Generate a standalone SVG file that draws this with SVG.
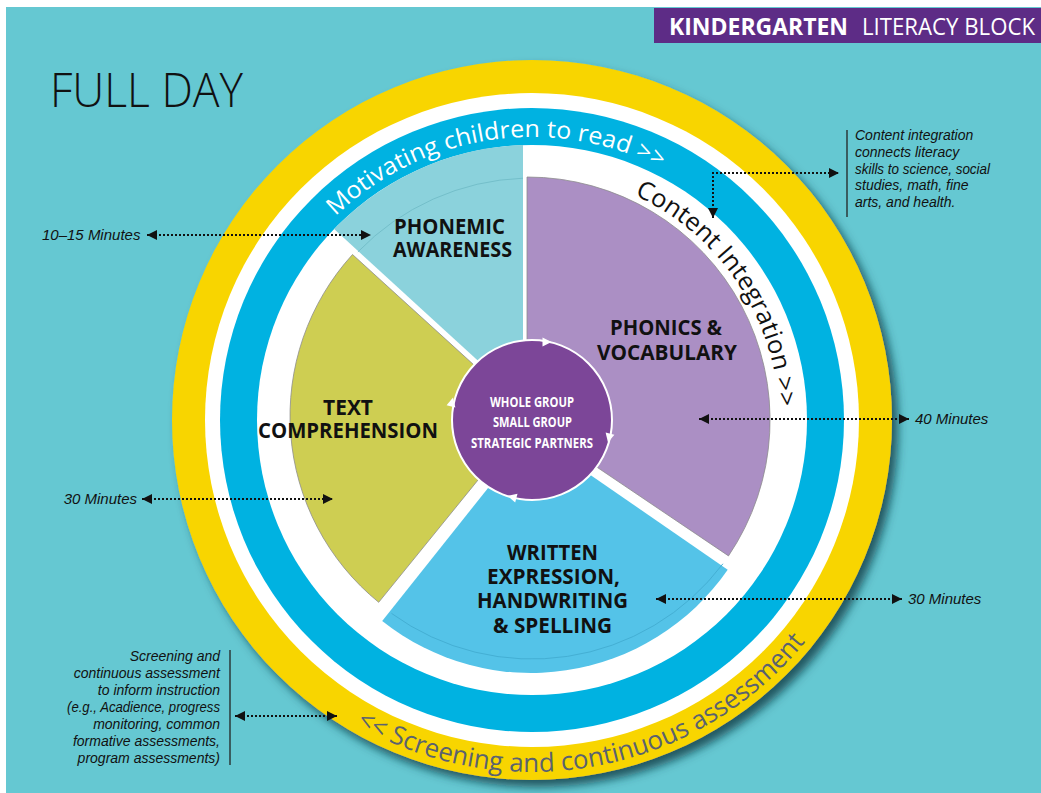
<svg xmlns="http://www.w3.org/2000/svg" width="1041" height="793" viewBox="0 0 1041 793">
<style>
.bold{font-family:"Open Sans","Liberation Sans",sans-serif;font-weight:700}
.lbl{font-family:"Open Sans","Liberation Sans",sans-serif;font-weight:700;font-size:21px;fill:#111;text-anchor:middle}
.ctr{font-family:"Open Sans","Liberation Sans",sans-serif;font-weight:700;font-size:15px;fill:#fff;text-anchor:middle}
.ann{font-family:"Liberation Sans",Arial,sans-serif;font-style:italic;font-size:15px;fill:#111}
.note{font-family:"Liberation Sans",Arial,sans-serif;font-style:italic;font-size:14px;fill:#111}
.arc{font-family:"Open Sans","Liberation Sans",sans-serif;font-weight:400}
.dot{fill:none;stroke:#111;stroke-width:2;stroke-dasharray:2 2}
.bar{stroke:#222;stroke-width:1.3}
.faint{fill:none;stroke-width:1}
</style>
<defs>
<marker id="ah" viewBox="0 0 10 10" refX="10" refY="5" markerWidth="10" markerHeight="11" markerUnits="userSpaceOnUse" orient="auto-start-reverse">
<path d="M0,0 L10,5 L0,10 Z" fill="#111"/>
</marker>
<path id="tri" d="M4.5,0 L-4.5,-4.5 L-4.5,4.5 Z" fill="#fff"/>
<filter id="shadow" x="-10%" y="-10%" width="125%" height="125%">
<feDropShadow dx="6" dy="7" stdDeviation="5" flood-color="#0b3a44" flood-opacity="0.8"/>
</filter>
<path id="pMot" d="M335.4,216.4 A283 283 0 0 1 748.8,238.1"/>
<path id="pCon" d="M634.4,195.2 A247 247 0 0 1 775.2,462.9"/>
<path id="pScr" d="M356,724.8 A352 352 0 0 0 836.8,596"/>
</defs>

<rect x="0" y="0" width="1041" height="793" fill="#ffffff"/>
<rect x="6" y="7" width="1035" height="786" fill="#65c8d2"/>

<g id="header">
<rect x="654" y="8" width="387" height="35" fill="#5d2c86"/>
<text x="669" y="35" class="bold" font-size="24" fill="#fff" textLength="179" lengthAdjust="spacingAndGlyphs">KINDERGARTEN</text>
<text x="862" y="35" class="arc" font-size="24" fill="#fff" textLength="173" lengthAdjust="spacingAndGlyphs">LITERACY BLOCK</text>
</g>

<g id="title">
<text x="50" y="107" font-family="Open Sans, Liberation Sans, sans-serif" font-weight="300" font-size="48" fill="#111" textLength="193" lengthAdjust="spacingAndGlyphs">FULL DAY</text>
</g>

<g id="rings">
<circle cx="532" cy="420" r="360" fill="#f8d500" filter="url(#shadow)"/>
<circle cx="532" cy="420" r="327" fill="#ffffff"/>
<circle cx="532" cy="420" r="312" fill="#00b2e1"/>
<circle cx="532" cy="420" r="275" fill="#ffffff"/>
</g>

<g id="ring-labels">
<text class="arc" font-size="24" fill="#ffffff"><textPath href="#pMot" textLength="351" lengthAdjust="spacingAndGlyphs">Motivating children to read &gt;&gt;</textPath></text>
<text class="arc" font-size="25" fill="#111111"><textPath href="#pCon" textLength="269" lengthAdjust="spacingAndGlyphs">Content Integration &gt;&gt;</textPath></text>
<text class="arc" font-size="26" fill="#5a6270"><textPath href="#pScr" textLength="497" lengthAdjust="spacingAndGlyphs">&lt;&lt; Screening and continuous assessment</textPath></text>
</g>

<g id="phonemic-awareness">
<path d="M523,402 L523,145.1 A275 275 0 0 0 334.1,229.1 Z" fill="#8bd2dc"/>
<path class="faint" d="M357.9,251.9 A242 242 0 0 1 523,178.2" stroke="#74bfca"/>
<text class="lbl" x="449.5" y="234" textLength="111" lengthAdjust="spacingAndGlyphs">PHONEMIC</text>
<text class="lbl" x="452.5" y="257" textLength="119" lengthAdjust="spacingAndGlyphs">AWARENESS</text>
</g>

<g id="phonics-vocabulary">
<path d="M527,420 L527,177 A243 243 0 0 1 728.5,555.9 Z" fill="#ab8fc4" stroke="#8d8d8d" stroke-width="0.8"/>
<text class="lbl" x="666" y="335" textLength="112" lengthAdjust="spacingAndGlyphs">PHONICS &amp;</text>
<text class="lbl" x="667" y="360" textLength="140" lengthAdjust="spacingAndGlyphs">VOCABULARY</text>
</g>

<g id="text-comprehension">
<path d="M530,416 L352.5,254.5 A240 240 0 0 0 378.7,602.3 Z" fill="#cece52" stroke="#8d8d8d" stroke-width="0.8"/>
<text class="lbl" x="348" y="415" textLength="50" lengthAdjust="spacingAndGlyphs">TEXT</text>
<text class="lbl" x="348" y="438" textLength="180" lengthAdjust="spacingAndGlyphs">COMPREHENSION</text>
</g>

<g id="written-expression">
<path d="M531,434 L727.7,569.7 A239 239 0 0 1 382.2,621 Z" fill="#54c3e8"/>
<path class="faint" d="M722.9,563.8 A239 239 0 0 1 391.5,613.4" stroke="#44afd4"/>
<text class="lbl" x="552.5" y="560" textLength="91" lengthAdjust="spacingAndGlyphs">WRITTEN</text>
<text class="lbl" x="553.5" y="584" textLength="133" lengthAdjust="spacingAndGlyphs">EXPRESSION,</text>
<text class="lbl" x="552.5" y="608" textLength="151" lengthAdjust="spacingAndGlyphs">HANDWRITING</text>
<text class="lbl" x="552.5" y="633" textLength="119" lengthAdjust="spacingAndGlyphs">&amp; SPELLING</text>
</g>

<g id="grouping-center">
<circle cx="532" cy="420" r="80" fill="#7c4698" stroke="#ffffff" stroke-width="2"/>
<use href="#tri" transform="translate(547,342) rotate(0)"/>
<use href="#tri" transform="translate(609,438) rotate(103)"/>
<use href="#tri" transform="translate(512,497) rotate(195)"/>
<use href="#tri" transform="translate(452,402) rotate(-77)"/>
<text class="ctr" x="532" y="407" textLength="84" lengthAdjust="spacingAndGlyphs">WHOLE GROUP</text>
<text class="ctr" x="532.5" y="427" textLength="79" lengthAdjust="spacingAndGlyphs">SMALL GROUP</text>
<text class="ctr" x="532" y="448" textLength="122" lengthAdjust="spacingAndGlyphs">STRATEGIC PARTNERS</text>
</g>

<g id="note-phonemic">
<text class="ann" x="42" y="240">10–15 Minutes</text>
</g>
<g id="note-comprehension">
<text class="ann" x="137" y="504" text-anchor="end">30 Minutes</text>
</g>
<g id="note-phonics">
<text class="ann" x="915" y="424">40 Minutes</text>
</g>
<g id="note-written">
<text class="ann" x="908" y="604">30 Minutes</text>
</g>
<g id="note-content">
<line class="bar" x1="847" y1="130" x2="847" y2="217"/>
<text class="note" x="855" y="140">Content integration</text>
<text class="note" x="855" y="156.8">connects literacy</text>
<text class="note" x="855" y="173.6" textLength="135" lengthAdjust="spacingAndGlyphs">skills to science, social</text>
<text class="note" x="855" y="190.4">studies, math, fine</text>
<text class="note" x="855" y="207.2">arts, and health.</text>
</g>
<g id="note-screening">
<line class="bar" x1="230" y1="650" x2="230" y2="765"/>
<text class="note" x="220" y="661" text-anchor="end">Screening and</text>
<text class="note" x="220" y="678" text-anchor="end">continuous assessment</text>
<text class="note" x="220" y="695" text-anchor="end">to inform instruction</text>
<text class="note" x="220" y="712" text-anchor="end" textLength="153" lengthAdjust="spacingAndGlyphs">(e.g., Acadience, progress</text>
<text class="note" x="220" y="729" text-anchor="end">monitoring, common</text>
<text class="note" x="220" y="746" text-anchor="end">formative assessments,</text>
<text class="note" x="220" y="763" text-anchor="end">program assessments)</text>
</g>

<g id="connectors">
<line class="dot" x1="147" y1="235" x2="371" y2="235" marker-start="url(#ah)" marker-end="url(#ah)"/>
<line class="dot" x1="142" y1="499" x2="333" y2="499" marker-start="url(#ah)" marker-end="url(#ah)"/>
<line class="dot" x1="699" y1="419" x2="909" y2="419" marker-start="url(#ah)" marker-end="url(#ah)"/>
<line class="dot" x1="656" y1="599" x2="902" y2="599" marker-start="url(#ah)" marker-end="url(#ah)"/>
<line class="dot" x1="235" y1="716" x2="337" y2="716" marker-start="url(#ah)" marker-end="url(#ah)"/>
<polyline class="dot" points="713,218 713,173 839,173" marker-start="url(#ah)" marker-end="url(#ah)"/>
</g>
</svg>
